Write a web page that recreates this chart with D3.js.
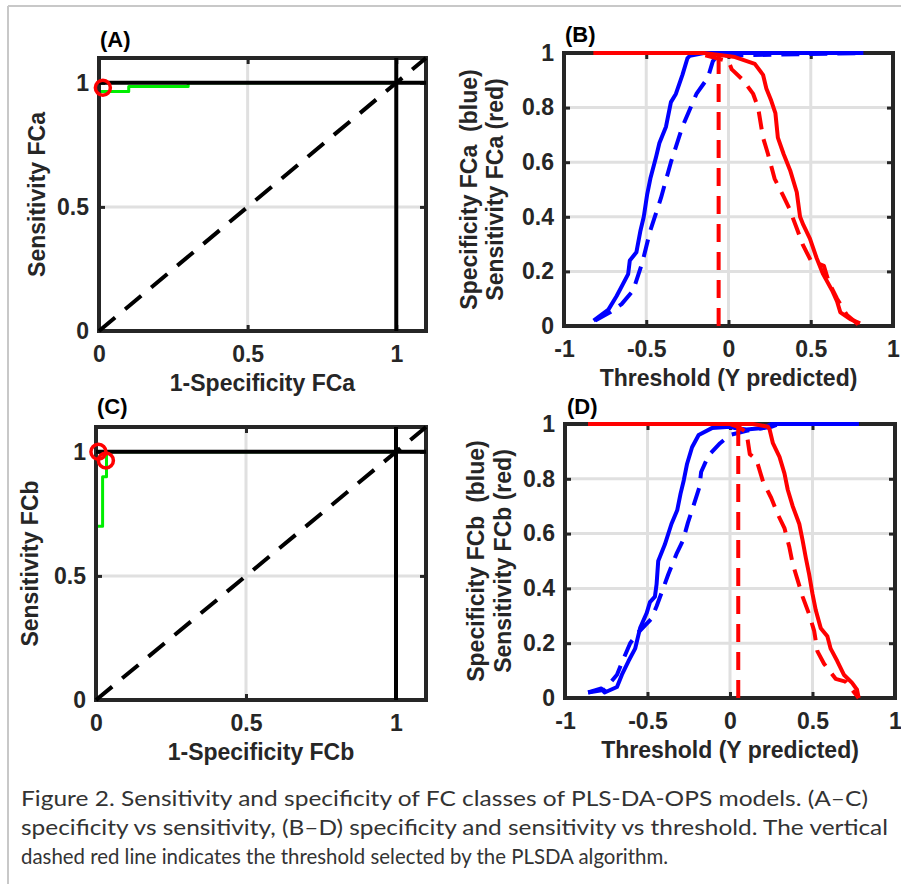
<html>
<head>
<meta charset="utf-8">
<title>Figure 2</title>
<style>
  body { margin: 0; background: #fff; }
  .tick text { font-family: "Liberation Sans", Arial, sans-serif; font-weight: bold; font-size: 23px; fill: #262626; }
  .ttl { font-family: "Liberation Sans", Arial, sans-serif; font-weight: bold; font-size: 23px; fill: #262626; }
  .tag { font-family: "Liberation Sans", Arial, sans-serif; font-weight: bold; font-size: 22px; fill: #000; }
  .cap { font-family: Lato, "Open Sans", sans-serif; font-size: 22px; fill: #333; }
</style>
<script src="https://d3js.org/d3.v7.min.js"></script>
</head>
<body>
<script>
// ---- data ----
// (A) ROC, class FCa
var rocA_fpr = [0, 0, 0.1, 0.1, 0.3, 0.3, 1];
var rocA_tpr = [0, 0.965, 0.965, 0.985, 0.985, 1, 1];
var optA_fpr = [0.013];
var optA_tpr = [0.98];

// (C) ROC, class FCb
var rocC_fpr = [0, 0, 0.022, 0.022, 0.035, 0.035, 1];
var rocC_tpr = [0, 0.70, 0.70, 0.90, 0.90, 1, 1];
var optC_fpr = [0.008, 0.033];
var optC_tpr = [1.0, 0.965];

// (B) specificity / sensitivity vs threshold, FCa (solid = calibration, dashed = CV)
var specB_x = [-0.82,-0.73,-0.68,-0.61,-0.60,-0.56,-0.535,-0.515,-0.495,-0.475,-0.44,-0.42,-0.38,-0.35,-0.32,-0.28,-0.25,-0.235,-0.15,0.82];
var specB_y = [0.02,0.06,0.11,0.19,0.24,0.27,0.35,0.40,0.48,0.54,0.62,0.67,0.73,0.82,0.85,0.92,0.98,0.99,1,1];
var specCvB_x = [-0.81,-0.72,-0.65,-0.58,-0.525,-0.475,-0.41,-0.35,-0.28,-0.195,-0.125,-0.095,-0.07,0.82];
var specCvB_y = [0.02,0.05,0.08,0.13,0.23,0.35,0.47,0.60,0.73,0.85,0.91,0.97,0.99,1];
var sensB_x = [-0.82,-0.15,-0.08,0.04,0.16,0.21,0.23,0.26,0.285,0.30,0.335,0.375,0.415,0.435,0.455,0.495,0.535,0.575,0.63,0.66,0.68,0.74,0.80];
var sensB_y = [1,1,0.995,0.985,0.96,0.92,0.87,0.825,0.78,0.69,0.63,0.57,0.49,0.40,0.37,0.32,0.25,0.19,0.13,0.09,0.05,0.025,0.01];
var sensCvB_x = [-0.82,-0.2,-0.1,0.0,0.02,0.09,0.15,0.18,0.21,0.24,0.28,0.33,0.37,0.42,0.45,0.50,0.58,0.61,0.66,0.72,0.80];
var sensCvB_y = [1,1,0.985,0.97,0.94,0.90,0.85,0.80,0.69,0.63,0.54,0.48,0.43,0.35,0.30,0.24,0.22,0.16,0.10,0.04,0.0];
var cutB = -0.06;

// (D) same for FCb
var specD_x = [-0.86,-0.78,-0.76,-0.685,-0.655,-0.615,-0.575,-0.545,-0.505,-0.485,-0.455,-0.445,-0.435,-0.395,-0.355,-0.32,-0.30,-0.28,-0.26,-0.23,-0.19,-0.11,0.0,0.03,0.1,0.2,0.25,0.78];
var specD_y = [0.02,0.035,0.02,0.04,0.085,0.135,0.18,0.255,0.31,0.35,0.37,0.415,0.50,0.56,0.635,0.685,0.745,0.795,0.855,0.915,0.96,0.985,0.99,0.985,0.98,0.985,1,1];
var specCvD_x = [-0.86,-0.76,-0.685,-0.655,-0.605,-0.555,-0.475,-0.445,-0.405,-0.375,-0.325,-0.285,-0.255,-0.225,-0.185,-0.175,-0.13,-0.06,0.0,0.1,0.25,0.3,0.78];
var specCvD_y = [0.02,0.03,0.085,0.13,0.20,0.24,0.29,0.335,0.40,0.45,0.525,0.575,0.64,0.695,0.77,0.825,0.885,0.93,0.96,0.975,0.99,1,1];
var sensD_x = [-0.86,0.14,0.23,0.24,0.26,0.30,0.33,0.35,0.38,0.42,0.44,0.46,0.48,0.50,0.52,0.55,0.59,0.61,0.65,0.69,0.74,0.77,0.78];
var sensD_y = [1,1,0.99,0.98,0.93,0.88,0.82,0.76,0.70,0.635,0.575,0.51,0.45,0.38,0.32,0.255,0.225,0.18,0.135,0.085,0.055,0.03,0.0];
var sensCvD_x = [-0.86,0.0,0.05,0.1,0.12,0.16,0.2,0.25,0.29,0.33,0.36,0.38,0.41,0.44,0.48,0.51,0.53,0.57,0.64,0.70,0.78];
var sensCvD_y = [1,1,0.99,0.97,0.89,0.87,0.79,0.73,0.67,0.62,0.55,0.49,0.43,0.37,0.305,0.245,0.17,0.125,0.07,0.06,0.0];
var cutD = 0.05;

// ticks
var rocTicks = [0, 0.5, 1];
var thrXTicks = [-1, -0.5, 0, 0.5, 1];
var thrYTicks = [0, 0.2, 0.4, 0.6, 0.8, 1];

var caption = [
  "Figure 2. Sensitivity and specificity of FC classes of PLS-DA-OPS models. (A\u2013C)",
  "specificity vs sensitivity, (B\u2013D) specificity and sensitivity vs threshold. The vertical",
  "dashed red line indicates the threshold selected by the PLSDA algorithm."
];

var width = 901, height = 884;
var svg = d3.select("body").append("svg")
  .attr("width", width)
  .attr("height", height);
svg.append("rect").attr("width", width).attr("height", height).attr("fill", "#fff");

// page frame
svg.append("line").attr("x1", 8).attr("x2", width).attr("y1", 6).attr("y2", 6)
  .attr("stroke", "#c8c8c8").attr("stroke-width", 2);
svg.append("line").attr("x1", 8).attr("x2", 8).attr("y1", 6).attr("y2", height)
  .attr("stroke", "#c8c8c8").attr("stroke-width", 2);

var fmt = function(d) { return String(d); };
var zip = function(xs, ys) { return xs.map(function(v, i) { return [v, ys[i]]; }); };

// grid of one panel, returns scales
function makeGrid(p) {
  var x = d3.scaleLinear().domain(p.xDomain).range([p.left, p.right]);
  var y = d3.scaleLinear().domain(p.yDomain).range([p.bottom, p.top]);
  var g = svg.append("g");
  g.selectAll(".gx").data(p.xTicks).enter().append("line")
    .attr("x1", d => x(d)).attr("x2", d => x(d))
    .attr("y1", p.top).attr("y2", p.bottom)
    .attr("stroke", "#e0e0e0").attr("stroke-width", 3);
  g.selectAll(".gy").data(p.yTicks).enter().append("line")
    .attr("x1", p.left).attr("x2", p.right)
    .attr("y1", d => y(d)).attr("y2", d => y(d))
    .attr("stroke", "#e0e0e0").attr("stroke-width", 3);
  return { x: x, y: y };
}

// frame, ticks and titles
function makeAxes(p, s) {
  var x = s.x, y = s.y;
  var g = svg.append("g");
  g.append("rect")
    .attr("x", p.left).attr("y", p.top)
    .attr("width", p.right - p.left).attr("height", p.bottom - p.top)
    .attr("fill", "none").attr("stroke", "#262626").attr("stroke-width", 4);

  // inward ticks on all four sides
  var inTicks = [
    [d3.axisBottom(x).tickValues(p.xTicks), p.bottom, 0],
    [d3.axisTop(x).tickValues(p.xTicks), p.top, 0],
    [d3.axisLeft(y).tickValues(p.yTicks), 0, p.left],
    [d3.axisRight(y).tickValues(p.yTicks), 0, p.right]
  ];
  inTicks.forEach(function(a) {
    var t = g.append("g").attr("transform", "translate(" + a[2] + "," + a[1] + ")")
      .call(a[0].tickSize(-6).tickFormat(""));
    t.select(".domain").remove();
    t.selectAll("line").attr("stroke", "#262626").attr("stroke-width", 3);
  });

  // tick labels
  var ax = g.append("g").attr("transform", "translate(0," + p.bottom + ")")
    .call(d3.axisBottom(x).tickValues(p.xTicks).tickSize(0).tickPadding(15).tickFormat(fmt));
  ax.select(".domain").remove();
  var ay = g.append("g").attr("transform", "translate(" + p.left + ",0)")
    .call(d3.axisLeft(y).tickValues(p.yTicks).tickSize(0).tickPadding(10).tickFormat(fmt));
  ay.select(".domain").remove();
  g.selectAll(".tick text").attr("font-family", null).attr("font-size", null);

  g.append("text").attr("class", "ttl")
    .attr("x", (p.left + p.right) / 2).attr("y", p.bottom + 60)
    .attr("text-anchor", "middle").text(p.xTitle);
  p.yTitles.forEach(function(t, i) {
    g.append("text").attr("class", "ttl")
      .attr("transform", "translate(" + p.yTitleX[i] + "," + (p.top + p.bottom) / 2 + ") rotate(-90)")
      .attr("text-anchor", "middle").style("white-space", "pre").text(t);
  });
  g.append("text").attr("class", "tag")
    .attr("x", p.tagX).attr("y", p.tagY).text(p.tag);
}

function curve(s, xs, ys, color, dashed, w) {
  var line = d3.line().x(d => s.x(d[0])).y(d => s.y(d[1]));
  svg.append("path").datum(zip(xs, ys))
    .attr("d", line)
    .attr("fill", "none").attr("stroke", color).attr("stroke-width", w || 4)
    .attr("stroke-linejoin", "round")
    .attr("stroke-dasharray", dashed ? "18,10" : null);
}

function rocPanel(p, fpr, tpr, ofpr, otpr) {
  var s = makeGrid(p);
  // ROC line sits under the frame, as in the original
  curve(s, fpr, tpr, "#00ee00", false, 3);
  makeAxes(p, s);
  // chance diagonal
  svg.append("line")
    .attr("x1", s.x(0)).attr("y1", s.y(0)).attr("x2", s.x(1.1)).attr("y2", s.y(1.1))
    .attr("stroke", "#000").attr("stroke-width", 4).attr("stroke-dasharray", "21,13");
  svg.append("line").attr("x1", s.x(0)).attr("x2", s.x(1.1)).attr("y1", s.y(1)).attr("y2", s.y(1))
    .attr("stroke", "#000").attr("stroke-width", 4);
  svg.append("line").attr("x1", s.x(1)).attr("x2", s.x(1)).attr("y1", s.y(0)).attr("y2", s.y(1.1))
    .attr("stroke", "#000").attr("stroke-width", 4);
  svg.selectAll(null).data(zip(ofpr, otpr)).enter().append("circle")
    .attr("cx", d => s.x(d[0])).attr("cy", d => s.y(d[1])).attr("r", 7.5)
    .attr("fill", "none").attr("stroke", "#ff0000").attr("stroke-width", 3.5);
}

function thrPanel(p, sx, sy, scx, scy, ex, ey, ecx, ecy, cut) {
  var s = makeGrid(p);
  makeAxes(p, s);
  curve(s, sx, sy, "#0000ff", false);
  curve(s, scx, scy, "#0000ff", true);
  curve(s, ex, ey, "#ff0000", false);
  curve(s, ecx, ecy, "#ff0000", true);
  curve(s, [cut, cut], [0, 1], "#ff0000", true);
}

rocPanel({ left: 99, right: 426, top: 58, bottom: 331, xDomain: [0, 1.1], yDomain: [0, 1.1],
  xTicks: rocTicks, yTicks: rocTicks, xTitle: "1-Specificity FCa",
  yTitles: ["Sensitivity FCa"], yTitleX: [45], tag: "(A)", tagX: 100, tagY: 47 },
  rocA_fpr, rocA_tpr, optA_fpr, optA_tpr);

thrPanel({ left: 564, right: 893, top: 53, bottom: 326, xDomain: [-1, 1], yDomain: [0, 1],
  xTicks: thrXTicks, yTicks: thrYTicks, xTitle: "Threshold (Y predicted)",
  yTitles: ["Specificity FCa  (blue)", "Sensitivity FCa (red)"], yTitleX: [477, 503],
  tag: "(B)", tagX: 565, tagY: 42 },
  specB_x, specB_y, specCvB_x, specCvB_y, sensB_x, sensB_y, sensCvB_x, sensCvB_y, cutB);

rocPanel({ left: 96, right: 426, top: 427, bottom: 700, xDomain: [0, 1.1], yDomain: [0, 1.1],
  xTicks: rocTicks, yTicks: rocTicks, xTitle: "1-Specificity FCb",
  yTitles: ["Sensitivity FCb"], yTitleX: [38], tag: "(C)", tagX: 97, tagY: 414 },
  rocC_fpr, rocC_tpr, optC_fpr, optC_tpr);

thrPanel({ left: 565, right: 895, top: 424, bottom: 698, xDomain: [-1, 1], yDomain: [0, 1],
  xTicks: thrXTicks, yTicks: thrYTicks, xTitle: "Threshold (Y predicted)",
  yTitles: ["Specificity FCb  (blue)", "Sensitivity FCb (red)"], yTitleX: [484, 511],
  tag: "(D)", tagX: 567, tagY: 414 },
  specD_x, specD_y, specCvD_x, specCvD_y, sensD_x, sensD_y, sensCvD_x, sensCvD_y, cutD);

// caption
var capWidths = [847, 867, 647];
svg.selectAll(".cap").data(caption).enter().append("text")
  .attr("class", "cap")
  .attr("x", 21)
  .attr("y", (d, i) => 806 + i * 29)
  .attr("textLength", (d, i) => capWidths[i])
  .attr("lengthAdjust", "spacingAndGlyphs")
  .text(d => d);
</script>
</body>
</html>
